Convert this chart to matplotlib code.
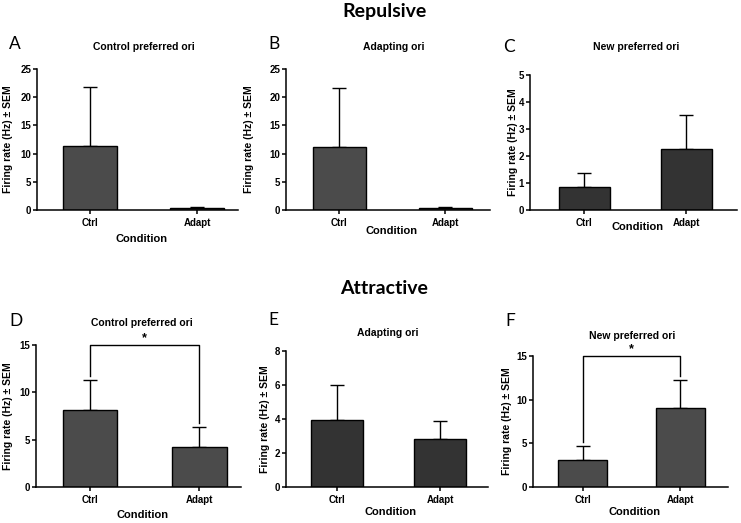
import numpy as np
import matplotlib.pyplot as plt

# panel data: mean firing rate and SEM for Ctrl / Adapt
conditions = ['Ctrl', 'Adapt']

ctrl_pref_rep = [11.3, 0.3]
ctrl_pref_rep_sem = [10.5, 0.2]
adapt_ori_rep = [11.1, 0.3]
adapt_ori_rep_sem = [10.5, 0.2]
new_pref_rep = [0.85, 2.25]
new_pref_rep_sem = [0.53, 1.27]

ctrl_pref_att = [8.1, 4.2]
ctrl_pref_att_sem = [3.2, 2.15]
adapt_ori_att = [3.95, 2.8]
adapt_ori_att_sem = [2.05, 1.08]
new_pref_att = [3.1, 9.0]
new_pref_att_sem = [1.6, 3.3]

W, H = 741, 523
FONT = 'Liberation Sans'
HEAD = 'Lato'


def box(l, t, r, b):
    return [l / W, 1 - b / H, (r - l) / W, (b - t) / H]


def fx(x):
    return x / W


def fy(y):
    return 1 - y / H


def panel(fig, rect, means, sems, color, ymax, step, xlim, title, letter,
          title_pos, letter_pos, ylab_x, cond_y, sig=None):
    ax = fig.add_axes(box(*rect))
    x = np.arange(len(means))
    ax.bar(x, means, width=0.5, color=color, edgecolor='black', linewidth=1.0,
           zorder=2)
    ax.errorbar(x, means, yerr=[np.zeros(len(sems)), sems], fmt='none',
                ecolor='black', elinewidth=1.0, capsize=5, capthick=1.0,
                zorder=1)
    ax.set_xlim(*xlim)
    ax.set_ylim(0, ymax)
    ax.set_yticks(np.arange(0, ymax + step / 2, step))
    ax.set_xticks(x)
    ax.set_xticklabels(conditions)
    for s in ['top', 'right']:
        ax.spines[s].set_visible(False)
    for s in ['left', 'bottom']:
        ax.spines[s].set_linewidth(1.1)
    ax.tick_params(direction='out', length=3, width=1.1, pad=1.2,
                   labelsize=7)
    for lab in ax.get_xticklabels() + ax.get_yticklabels():
        lab.set_fontweight('bold')
        lab.set_family(FONT)
    ax.tick_params(axis='x', pad=3)

    if sig is not None:
        tops = np.array(means) + np.array(sems) + 0.4
        ax.plot([0, 0, 1, 1], [tops[0], sig, sig, tops[1]], color='black',
                lw=1.0, clip_on=False)
        ax.text(0.5, sig + 0.1, '*', ha='center', va='bottom', fontsize=9,
                fontweight='bold', family=FONT)

    l, t, r, b = rect
    fig.text(fx(title_pos[0]), fy(title_pos[1]), title, ha='center',
             va='center', fontsize=7.5, fontweight='bold', family=FONT)
    fig.text(fx(letter_pos[0]), fy(letter_pos[1]), letter, ha='left',
             va='center', fontsize=12.5, family=HEAD)
    fig.text(fx(ylab_x), fy((t + b) / 2), 'Firing rate (Hz) \u00b1 SEM',
             rotation=90, ha='center', va='center', fontsize=7.5,
             fontweight='bold', family=FONT)
    fig.text(fx((l + r) / 2 + 4), fy(cond_y), 'Condition', ha='center',
             va='center', fontsize=8, fontweight='bold', family=FONT)
    return ax


fig = plt.figure(figsize=(W / 100, H / 100), dpi=100)

fig.text(fx(384), fy(12), 'Repulsive', ha='center', va='center',
         fontsize=14, fontweight='bold', family=HEAD)
fig.text(fx(384), fy(289), 'Attractive', ha='center', va='center',
         fontsize=14, fontweight='bold', family=HEAD)

dark = '#4b4b4b'
darker = '#333333'

panel(fig, (37, 69, 238, 210), ctrl_pref_rep, ctrl_pref_rep_sem, dark, 25, 5,
      (-0.495, 1.38), 'Control preferred ori', 'A', (144, 47), (9, 44), 8, 239)
panel(fig, (286, 69, 490, 210), adapt_ori_rep, adapt_ori_rep_sem, dark, 25, 5,
      (-0.5, 1.42), 'Adapting ori', 'B', (394, 47), (268, 44), 249, 231)
panel(fig, (530, 75, 737, 210), new_pref_rep, new_pref_rep_sem, darker, 5, 1,
      (-0.534, 1.495), 'New preferred ori', 'C', (636, 47), (503, 47), 513, 227)

panel(fig, (36, 345, 241, 487), ctrl_pref_att, ctrl_pref_att_sem, dark, 15, 5,
      (-0.495, 1.38), 'Control preferred ori', 'D', (142, 323), (9, 321), 8,
      515, sig=15)
panel(fig, (286, 351, 488, 487), adapt_ori_att, adapt_ori_att_sem, darker, 8, 2,
      (-0.495, 1.466), 'Adapting ori', 'E', (388, 333), (268, 320), 265, 512)
panel(fig, (533, 356, 728, 487), new_pref_att, new_pref_att_sem, dark, 15, 5,
      (-0.508, 1.49), 'New preferred ori', 'F', (632, 336), (505, 321), 507,
      512, sig=15)

fig.savefig('out.png', dpi=100)
